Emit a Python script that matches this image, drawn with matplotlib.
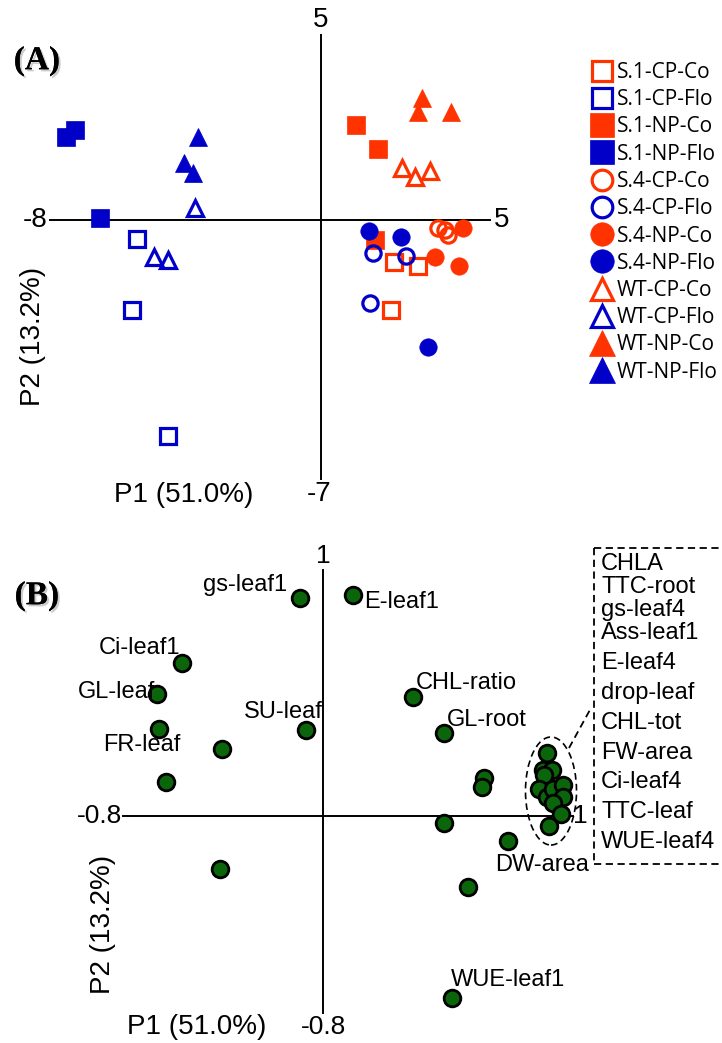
import matplotlib.pyplot as plt
import matplotlib.patheffects as pe
from matplotlib.lines import Line2D
from matplotlib.patches import Ellipse

# figure size in pixels (dpi 100)
W, H = 722, 1043

# ---------------- panel A: sample scores ----------------
groups = ["S.1-CP-Co", "S.1-CP-Flo", "S.1-NP-Co", "S.1-NP-Flo",
          "S.4-CP-Co", "S.4-CP-Flo", "S.4-NP-Co", "S.4-NP-Flo",
          "WT-CP-Co", "WT-CP-Flo", "WT-NP-Co", "WT-NP-Flo"]
score_x = [[2.16, 2.87, 2.07], [-5.43, -5.58, -4.51],
           [1.04, 1.69, 1.60], [-7.53, -7.26, -6.52],
           [3.46, 3.67, 3.76], [1.54, 2.52, 1.45],
           [4.20, 3.37, 4.08], [1.42, 2.37, 3.17],
           [2.40, 2.78, 3.23], [-3.72, -4.93, -4.51],
           [2.99, 2.87, 3.85], [-3.63, -4.04, -3.78]]
score_y = [[-1.14, -1.24, -2.43], [-0.51, -2.43, -5.84],
           [2.57, 1.92, -0.54], [2.24, 2.43, 0.05],
           [-0.22, -0.27, -0.41], [-0.89, -0.97, -2.24],
           [-0.22, -1.00, -1.24], [-0.30, -0.46, -3.43],
           [1.41, 1.16, 1.32], [0.32, -1.00, -1.08],
           [3.30, 2.92, 2.92], [2.24, 1.54, 1.27]]

# ---------------- panel B: variable loadings ----------------
load_x = [-0.092, 0.12, -0.564, -0.664, -0.656, -0.404, -0.068, -0.628,
          -0.412, 0.36, 0.484, 0.644, 0.636, 0.484, 0.74, 0.58, 0.516,
          0.896, 0.88, 0.916, 0.884, 0.864, 0.896, 0.92, 0.96, 0.96,
          0.92, 0.952, 0.904]
load_y = [0.886, 0.898, 0.622, 0.496, 0.354, 0.272, 0.35, 0.138,
          -0.215, 0.484, 0.337, 0.154, 0.118, -0.028, -0.102, -0.289,
          -0.74, 0.256, 0.187, 0.187, 0.167, 0.110, 0.077, 0.110, 0.126,
          0.077, 0.053, 0.008, -0.041]
load_names = ["gs-leaf1", "E-leaf1", "Ci-leaf1", "GL-leaf", "FR-leaf",
              "", "SU-leaf", "", "", "CHL-ratio", "GL-root", "", "", "",
              "DW-area", "", "WUE-leaf1"]
cluster_names = ["CHLA", "TTC-root", "gs-leaf4", "Ass-leaf1", "E-leaf4",
                 "drop-leaf", "CHL-tot", "FW-area", "Ci-leaf4", "TTC-leaf",
                 "WUE-leaf4"]

RED = "#ff3300"
BLUE = "#0000c8"
GREEN = "#0b650b"

# label offsets in pixels (text placement)
name_offsets = {"gs-leaf1": (-13, 13, "right"), "E-leaf1": (11, -7, "left"),
                "Ci-leaf1": (-2, 15, "right"), "GL-leaf": (-2, 2, "right"),
                "FR-leaf": (-17, -16, "center"), "SU-leaf": (17, 18, "right"),
                "CHL-ratio": (3, 14, "left"), "GL-root": (3, 13, "left"),
                "DW-area": (34, -24, "center"), "WUE-leaf1": (-1, 18, "left")}

plt.rcParams['font.family'] = ['Liberation Sans', 'DejaVu Sans']

fig = plt.figure(figsize=(W / 100, H / 100), dpi=100)


def box(l, t, r, b):
    return [l / W, 1 - b / H, (r - l) / W, (b - t) / H]


def fpos(x, y):
    return x / W, 1 - y / H


def tick(ax, txt, xy, off, ha, va, size):
    ax.annotate(txt, xy, xytext=off, textcoords='offset pixels',
                ha=ha, va=va, fontsize=size, annotation_clip=False)


shadow = [pe.withSimplePatchShadow(offset=(1.5, -1.5), shadow_rgbFace='0.6',
                                   alpha=0.5), pe.Normal()]

# ================= panel A =================
ax1 = fig.add_axes(box(50, 35, 490, 479))
ax1.set_xlim(-8, 5)
ax1.set_ylim(-7, 5)
ax1.axis('off')
ax1.plot([-8, 5], [0, 0], color='black', lw=1.4, clip_on=False, zorder=1)
ax1.plot([0, 0], [-7, 5], color='black', lw=1.4, clip_on=False, zorder=1)

handles = []
for i, g in enumerate(groups):
    col = RED if g.endswith("Co") else BLUE
    mk = {"S.1": "s", "S.4": "o", "WT": "^"}[g.split("-")[0]]
    filled = "-NP-" in g
    ms = 12.5 if mk != "^" else 13.5
    if filled:
        h, = ax1.plot(score_x[i], score_y[i], ls='none', marker=mk, ms=ms,
                      mfc=col, mec=col, mew=0.5, clip_on=False, zorder=2)
    else:
        h, = ax1.plot(score_x[i], score_y[i], ls='none', marker=mk,
                      ms=ms - 1.5, mfc='none', mec=col, mew=2.3,
                      clip_on=False, zorder=2)
    handles.append(h)

tick(ax1, "5", (0, 5), (0, 2), 'center', 'bottom', 20)
tick(ax1, "-8", (-8, 0), (-2, 0), 'right', 'center', 20)
tick(ax1, "5", (5, 0), (4, 0), 'left', 'center', 20)
tick(ax1, "-7", (0, -7), (-2, -2), 'center', 'top', 20)

fig.text(*fpos(33, 336), "P2 (13.2%)", rotation=90, ha='center',
         va='center', fontsize=20)
fig.text(*fpos(184, 495), "P1 (51.0%)", ha='center', va='center',
         fontsize=20)
fig.text(*fpos(37, 61), "(A)", family='Liberation Serif', weight='bold',
         fontsize=24, ha='center', va='center', path_effects=shadow)

leg = ax1.legend(handles, groups, loc='upper left',
                 bbox_to_anchor=fpos(591, 62), bbox_transform=fig.transFigure,
                 frameon=False, prop={'family': 'Open Sans', 'size': 15},
                 handlelength=1.05, handletextpad=0.2, borderpad=0,
                 borderaxespad=0, labelspacing=0.3, markerscale=1.35)

# ================= panel B =================
ax2 = fig.add_axes(box(123, 570, 573, 1013))
ax2.set_xlim(-0.8, 1)
ax2.set_ylim(-0.8, 1)
ax2.axis('off')
ax2.plot([-0.8, 1], [0, 0], color='black', lw=1.4, clip_on=False, zorder=1)
ax2.plot([0, 0], [-0.8, 1], color='black', lw=1.4, clip_on=False, zorder=1)

ax2.plot(load_x, load_y, ls='none', marker='o', ms=12, mfc=GREEN,
         mec='black', mew=2.0, clip_on=False, zorder=3)

for nm, x, y in zip(load_names, load_x, load_y):
    if nm:
        dx, dy, ha = name_offsets[nm]
        ax2.annotate(nm, (x, y), xytext=(dx, dy), textcoords='offset pixels',
                     ha=ha, va='center', fontsize=17, zorder=4)

ax2.add_patch(Ellipse((0.912, 0.102), 0.204, 0.439, fill=False,
                      ls=(0, (4, 2.5)), lw=1.2, ec='black', clip_on=False))

tick(ax2, "1", (0, 1), (0, 2), 'center', 'bottom', 19)
tick(ax2, "-0.8", (-0.8, 0), (-1, 0), 'right', 'center', 19)
tick(ax2, "1", (1, 0), (0, 0), 'left', 'center', 19)
tick(ax2, "-0.8", (0, -0.8), (0, -2), 'center', 'top', 19)

fig.text(*fpos(103, 924), "P2 (13.2%)", rotation=90, ha='center',
         va='center', fontsize=20)
fig.text(*fpos(197, 1027), "P1 (51.0%)", ha='center', va='center',
         fontsize=20)
fig.text(*fpos(37, 596), "(B)", family='Liberation Serif', weight='bold',
         fontsize=24, ha='center', va='center', path_effects=shadow)

# dashed box listing the clustered variables
dash = (0, (4, 2.5))
for (x0, y0), (x1, y1) in [((594, 548), (722, 548)), ((594, 548), (594, 864)),
                           ((594, 864), (722, 864)), ((569, 748), (591, 708))]:
    fig.add_artist(Line2D([x0 / W, x1 / W], [1 - y0 / H, 1 - y1 / H],
                          color='black', lw=1.3, ls=dash,
                          transform=fig.transFigure))

row_y = [564, 587, 610, 633, 663, 693, 723, 753, 782, 812, 842]
for nm, py in zip(cluster_names, row_y):
    fig.text(*fpos(601, py), nm, ha='left', va='center', fontsize=17)

fig.savefig("out.png", dpi=100)
